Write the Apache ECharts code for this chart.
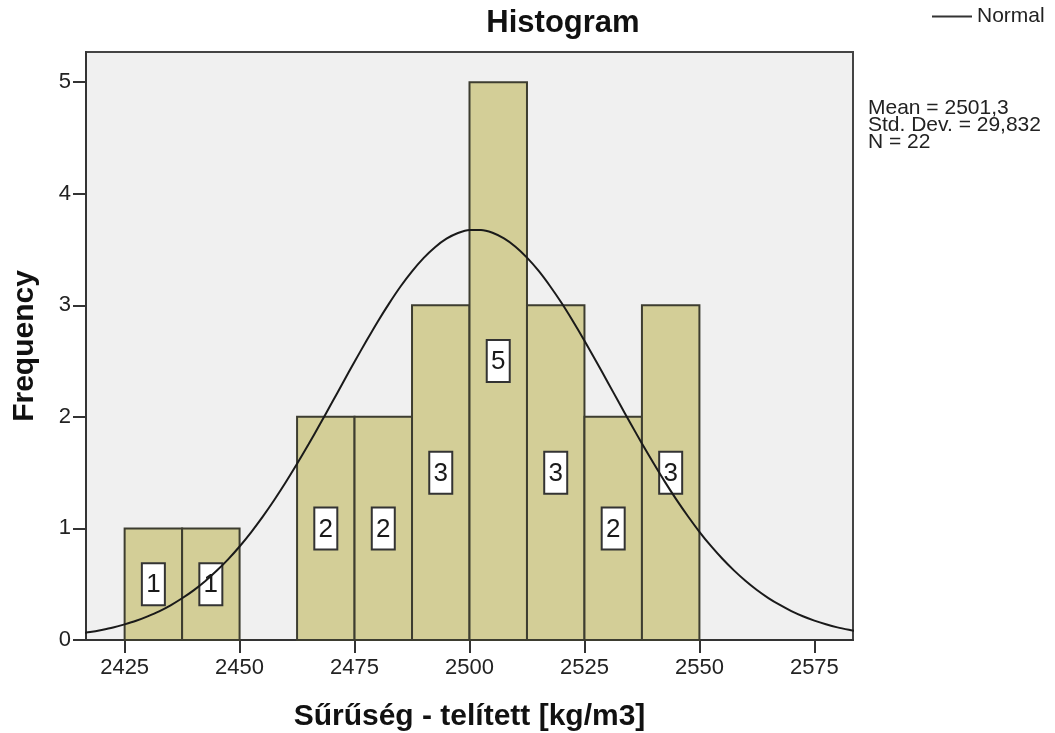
<!DOCTYPE html>
<html>
<head>
<meta charset="utf-8">
<script src="https://cdn.jsdelivr.net/npm/echarts@6/dist/echarts.min.js"></script>
<style>
  html, body { margin: 0; padding: 0; background: #ffffff; }
  #chart { width: 1055px; height: 733px; }
</style>
</head>
<body>
<div id="chart"></div>
<script>
// Histogram bins (kg/m3) and their frequencies
const binStart = [2425, 2437.5, 2450, 2462.5, 2475, 2487.5, 2500, 2512.5, 2525, 2537.5];
const binEnd   = [2437.5, 2450, 2462.5, 2475, 2487.5, 2500, 2512.5, 2525, 2537.5, 2550];
const counts   = [1, 1, 0, 2, 2, 3, 5, 3, 2, 3];

// Fitted normal curve, sampled every 2.5 kg/m3
const curveX = [2415, 2417.5, 2420, 2422.5, 2425, 2427.5, 2430, 2432.5, 2435, 2437.5,
                2440, 2442.5, 2445, 2447.5, 2450, 2452.5, 2455, 2457.5, 2460, 2462.5,
                2465, 2467.5, 2470, 2472.5, 2475, 2477.5, 2480, 2482.5, 2485, 2487.5,
                2490, 2492.5, 2495, 2497.5, 2500, 2502.5, 2505, 2507.5, 2510, 2512.5,
                2515, 2517.5, 2520, 2522.5, 2525, 2527.5, 2530, 2532.5, 2535, 2537.5,
                2540, 2542.5, 2545, 2547.5, 2550, 2552.5, 2555, 2557.5, 2560, 2562.5,
                2565, 2567.5, 2570, 2572.5, 2575, 2577.5, 2580, 2582.5, 2585];
const curveY = [0.056, 0.071, 0.090, 0.112, 0.140, 0.172, 0.212, 0.257, 0.311, 0.374,
                0.445, 0.527, 0.620, 0.723, 0.838, 0.965, 1.103, 1.252, 1.411, 1.579,
                1.754, 1.936, 2.121, 2.308, 2.494, 2.675, 2.851, 3.015, 3.168, 3.304,
                3.423, 3.521, 3.597, 3.648, 3.675, 3.675, 3.650, 3.599, 3.525, 3.427,
                3.310, 3.173, 3.022, 2.857, 2.683, 2.501, 2.315, 2.128, 1.943, 1.761,
                1.586, 1.417, 1.258, 1.109, 0.970, 0.843, 0.728, 0.624, 0.531, 0.448,
                0.376, 0.314, 0.259, 0.213, 0.174, 0.141, 0.113, 0.091, 0.072];

// Axis ticks
const xTicks = [2425, 2450, 2475, 2500, 2525, 2550, 2575];
const yTicks = [0, 1, 2, 3, 4, 5];
const statLines = ['Mean = 2501,3', 'Std. Dev. = 29,832', 'N = 22'];

const FONT = "'Liberation Sans', Arial, sans-serif";
const BAR_FILL = '#d3ce97';
const BAR_EDGE = '#3d3d30';

const chart = echarts.init(document.getElementById('chart'), null, { renderer: 'canvas' });

const barData = binStart.map((s, i) => [s, binEnd[i], counts[i]]);
const curveData = curveX.map((x, i) => [x, curveY[i]]);

function renderBin(params, api) {
  const x0 = api.value(0), x1 = api.value(1), n = api.value(2);
  if (!n) return { type: 'group', children: [] };
  const pTop = api.coord([x0, n]);
  const pBot = api.coord([x1, 0]);
  const cx = (pTop[0] + pBot[0]) / 2;
  const cy = api.coord([x0, n / 2])[1];
  const bw = 23, bh = 42;
  return {
    type: 'group',
    children: [
      {
        type: 'rect',
        shape: { x: pTop[0], y: pTop[1], width: pBot[0] - pTop[0], height: pBot[1] - pTop[1] },
        style: { fill: BAR_FILL, stroke: BAR_EDGE, lineWidth: 2 }
      },
      {
        type: 'rect',
        shape: { x: cx - bw / 2, y: cy - bh / 2, width: bw, height: bh },
        style: { fill: '#ffffff', stroke: '#333333', lineWidth: 2 }
      },
      {
        type: 'text',
        x: cx, y: cy + 1,
        style: {
          text: String(n), fill: '#1a1a1a',
          font: '26px ' + FONT,
          align: 'center', verticalAlign: 'middle'
        }
      }
    ]
  };
}

const option = {
  animation: false,
  backgroundColor: '#ffffff',
  title: {
    text: 'Histogram',
    left: 563, top: 8, padding: 0,
    textAlign: 'center',
    textStyle: { fontFamily: FONT, fontWeight: 'bold', fontSize: 31, color: '#111111' }
  },
  legend: {
    data: ['Normal'],
    left: 932, top: 6, padding: 0,
    icon: 'rect', itemWidth: 40, itemHeight: 2, itemGap: 10,
    textStyle: { fontFamily: FONT, fontSize: 21, color: '#222222' }
  },
  grid: {
    left: 86, top: 52, right: 202, bottom: 93,
    outerBoundsMode: 'none', containLabel: false,
    show: true, backgroundColor: '#f0f0f0', borderColor: '#444444', borderWidth: 2
  },
  xAxis: {
    type: 'value',
    min: 2416.6, max: 2583.4,
    name: 'Sűrűség - telített [kg/m3]',
    nameLocation: 'middle', nameGap: 62,
    nameTextStyle: { fontFamily: FONT, fontWeight: 'bold', fontSize: 30, color: '#111111' },
    axisLine: { show: true, lineStyle: { color: '#333333', width: 2 } },
    axisTick: { show: true, length: 13, customValues: xTicks, lineStyle: { color: '#333333', width: 2 } },
    axisLabel: { customValues: xTicks, fontFamily: FONT, fontSize: 22, color: '#222222', margin: 17,
                 formatter: v => String(v) },
    splitLine: { show: false }
  },
  yAxis: {
    type: 'value',
    min: 0, max: 5.27,
    name: 'Frequency',
    nameLocation: 'middle', nameGap: 46,
    nameTextStyle: { fontFamily: FONT, fontWeight: 'bold', fontSize: 30, color: '#111111' },
    axisLine: { show: true, lineStyle: { color: '#333333', width: 2 } },
    axisTick: { show: true, length: 13, customValues: yTicks, lineStyle: { color: '#333333', width: 2 } },
    axisLabel: { customValues: yTicks, fontFamily: FONT, fontSize: 22, color: '#222222', margin: 15,
                 formatter: v => String(v) },
    splitLine: { show: false }
  },
  graphic: statLines.map((t, i) => ({
    type: 'text',
    left: 868, top: 98 + i * 17,
    style: { text: t, font: '21px ' + FONT, fill: '#222222' }
  })),
  series: [
    {
      name: 'Bins',
      type: 'custom',
      renderItem: renderBin,
      encode: { x: [0, 1], y: 2 },
      data: barData,
      z: 2
    },
    {
      name: 'Normal',
      type: 'line',
      data: curveData,
      smooth: 0.3,
      symbol: 'none',
      clip: true,
      lineStyle: { color: '#1a1a1a', width: 2 },
      itemStyle: { color: '#333333' },
      z: 5
    }
  ]
};

chart.setOption(option);
</script>
</body>
</html>
